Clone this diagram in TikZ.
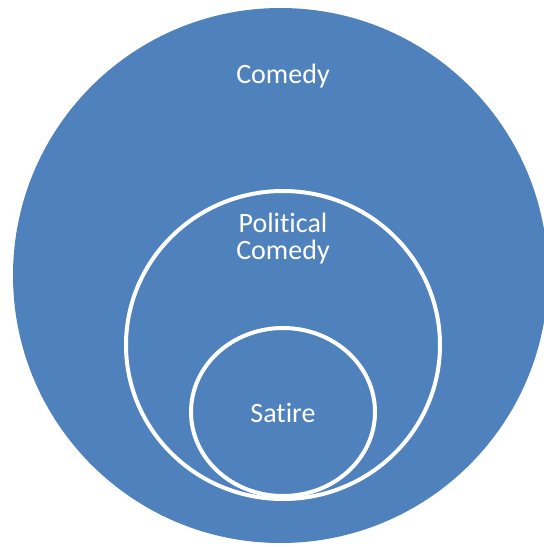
\documentclass[tikz,border=0pt]{standalone}
\usepackage{fontspec}
\setmainfont[Ligatures=NoCommon]{Carlito}
\definecolor{setblue}{HTML}{4F81BD}

\begin{document}
\begin{tikzpicture}[x=1pt, y=-1pt, font=\fontsize{28}{30}\selectfont]
    \useasboundingbox (0,0) rectangle (544,547);
    \fill [setblue] (280.5,275.5) ellipse (267.5 and 267.5);
    \draw [white, line width=4] (283,345) ellipse (157 and 154);
    \draw [white, line width=4] (283,412) ellipse (92 and 84);
    \node (comedy) at (283,83) [anchor=base, text=white] {Comedy};
    \node (political) at (283,232) [anchor=base, text=white] {Political};
    \node (polcomedy) at (283,259) [anchor=base, text=white] {Comedy};
    \node (satire) at (283,422) [anchor=base, text=white] {Satire};
\end{tikzpicture}
\end{document}
